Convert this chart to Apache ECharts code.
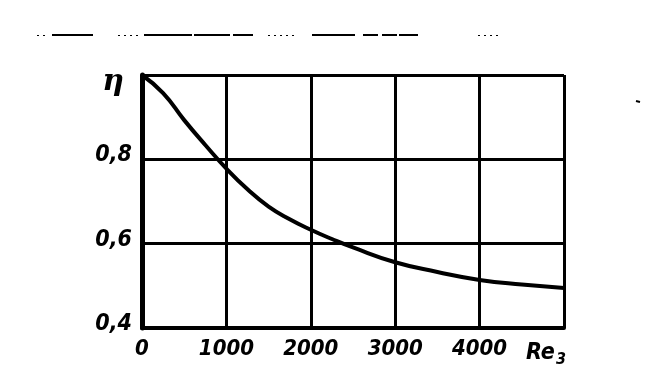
<!DOCTYPE html>
<html>
<head>
<meta charset="utf-8">
<script src="https://cdn.jsdelivr.net/npm/echarts@6/dist/echarts.min.js"></script>
<style>
html,body{margin:0;padding:0;background:#fff;}
#chart{width:646px;height:380px;}
</style>
</head>
<body>
<div id="chart"></div>
<script>
const reValues = [0, 250, 500, 750, 1000, 1250, 1500, 1750, 2000, 2250, 2500, 3000, 3500, 4000, 4500, 5000];
const etaValues = [1.0, 0.957, 0.893, 0.834, 0.778, 0.729, 0.688, 0.658, 0.633, 0.611, 0.591, 0.556, 0.533, 0.514, 0.503, 0.495];
const xTickLabels = ['0', '1000', '2000', '3000', '4000', 'Re₃'];
const yTickLabels = ['0,4', '0,6', '0,8', 'η'];

const FONT = '"Liberation Sans Narrow", "DejaVu Sans Condensed", sans-serif';
const chart = echarts.init(document.getElementById('chart'));
const points = reValues.map((r, i) => [r, etaValues[i]]);

// scan artefacts along the top of the page: solid pieces and dotted pieces
const scanSolid = [[52, 93], [144, 192], [194, 230], [233, 253], [312, 355], [363, 378], [382, 397], [399, 418]];
const scanDotted = [[37, 47], [118, 140], [268, 297], [478, 500]];

chart.setOption({
  animation: false,
  backgroundColor: '#fff',
  grid: { left: 142, right: 82, top: 75, bottom: 52, show: false },
  xAxis: {
    type: 'value', min: 0, max: 5000, interval: 1000,
    axisLine: { show: true, lineStyle: { color: '#000', width: 4 } },
    axisTick: { show: false },
    splitLine: { show: true, lineStyle: { color: '#000', width: 3 } },
    axisLabel: {
      margin: 10,
      color: '#000',
      fontFamily: FONT, fontWeight: 'bold', fontStyle: 'italic', fontSize: 22,
      formatter: function (v) {
        const idx = Math.round(v / 1000);
        if (idx === 5) return '{re|Re}{sub|3}{pad|}';
        return xTickLabels[idx];
      },
      rich: {
        re: { fontFamily: FONT, fontWeight: 'bold', fontStyle: 'italic', fontSize: 23, color: '#000' },
        sub: { fontFamily: FONT, fontWeight: 'bold', fontStyle: 'italic', fontSize: 16, color: '#000', padding: [14, 0, 0, 1] },
        pad: { width: 36 }
      }
    }
  },
  yAxis: {
    type: 'value', min: 0.4, max: 1.0, interval: 0.2,
    axisLine: { show: true, lineStyle: { color: '#000', width: 5 } },
    axisTick: { show: false },
    splitLine: { show: true, lineStyle: { color: '#000', width: 3 } },
    axisLabel: {
      margin: 10,
      color: '#000',
      fontFamily: FONT, fontWeight: 'bold', fontStyle: 'italic', fontSize: 23,
      formatter: function (v) {
        const idx = Math.round((v - 0.4) / 0.2);
        if (idx === 3) return '{eta|' + yTickLabels[idx] + '}';
        return '{num|' + yTickLabels[idx] + '}';
      },
      rich: {
        num: { fontFamily: FONT, fontWeight: 'bold', fontStyle: 'italic', fontSize: 23, color: '#000', padding: [0, 0, 8, 0] },
        eta: { fontFamily: '"DejaVu Serif", serif', fontWeight: 'bold', fontStyle: 'italic', fontSize: 30, color: '#000', padding: [14, 8, 0, 0] }
      }
    }
  },
  graphic: scanSolid.map(s => ({
    type: 'line', shape: { x1: s[0], y1: 35, x2: s[1], y2: 35 },
    style: { stroke: '#000', lineWidth: 2 }
  })).concat(scanDotted.map(s => ({
    type: 'line', shape: { x1: s[0], y1: 35.5, x2: s[1], y2: 35.5 },
    style: { stroke: '#000', lineWidth: 1, lineDash: [2, 4] }
  }))).concat([
    { type: 'line', shape: { x1: 636, y1: 101, x2: 640, y2: 102 },
      style: { stroke: '#000', lineWidth: 2 } }
  ]),
  series: [{
    type: 'line',
    data: points,
    smooth: true,
    symbol: 'none',
    lineStyle: { color: '#000', width: 4 }
  }]
});
</script>
</body>
</html>
